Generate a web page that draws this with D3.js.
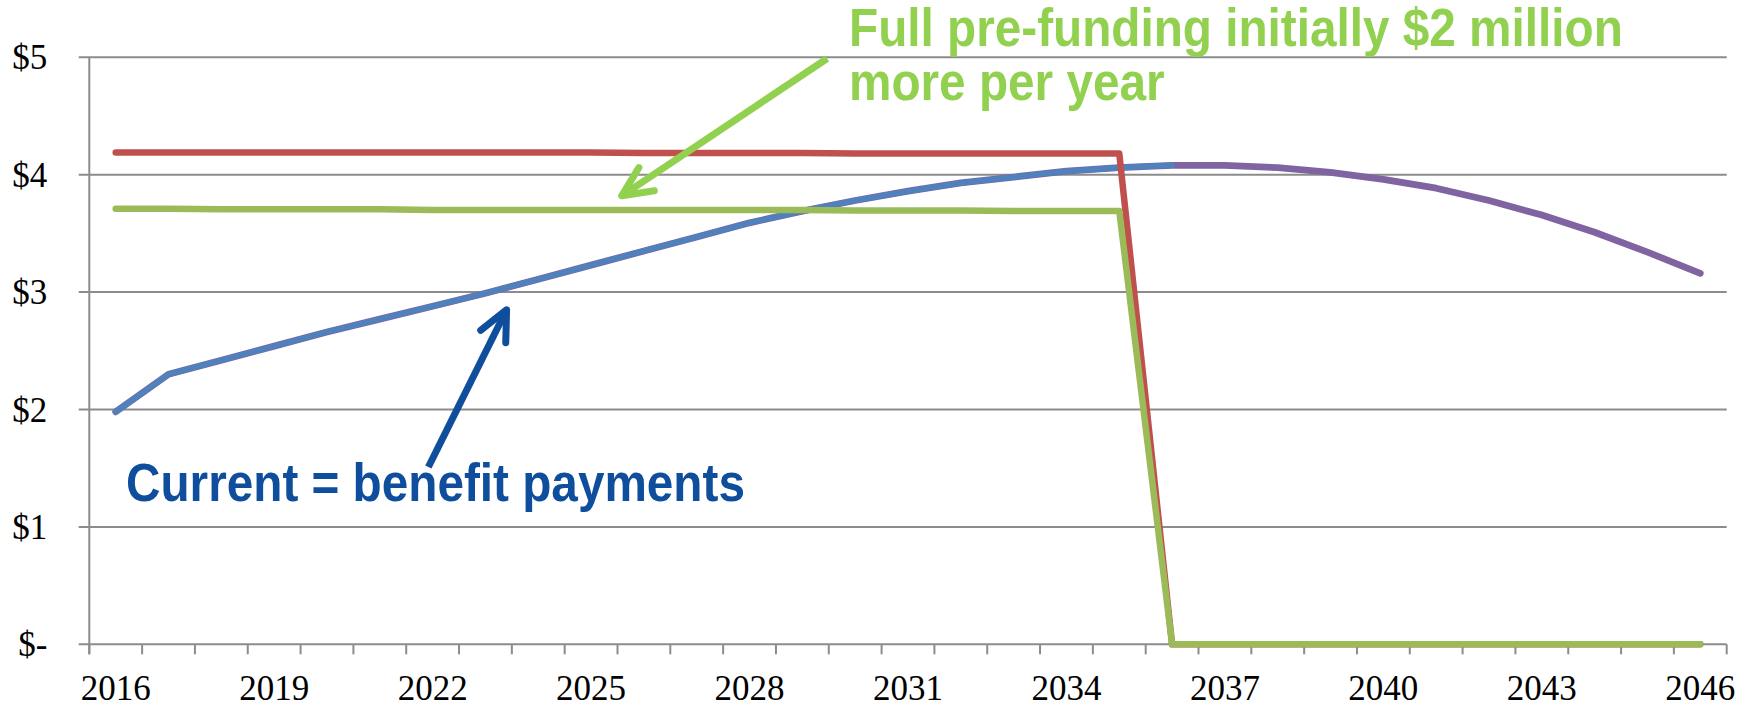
<!DOCTYPE html>
<html>
<head>
<meta charset="utf-8">
<script src="https://cdn.jsdelivr.net/npm/d3@7"></script>
<style>
  body { margin: 0; background: #fff; }
  svg { display: block; }
  .tick text { font-family: "Liberation Serif", "Times New Roman", serif; font-size: 35px; fill: #000; }
  .note { font-family: "Liberation Sans", Arial, sans-serif; font-weight: bold; font-size: 53px; }
</style>
</head>
<body>
<div id="chart"></div>
<script>
// years on the category axis
var years = d3.range(2016, 2047);

// $ millions per year
var currentVals = [1.98, 2.30, 2.42, 2.54, 2.66, 2.77, 2.88, 2.99, 3.11, 3.23, 3.35, 3.47, 3.59, 3.69,
                   3.78, 3.86, 3.93, 3.98, 4.03, 4.06, 4.08];
var redVals = [4.19, 4.19, 4.19, 4.19, 4.19, 4.19, 4.19, 4.19, 4.19, 4.19, 4.185, 4.185, 4.185, 4.185,
               4.18, 4.18, 4.18, 4.18, 4.18, 4.18, 0, 0, 0, 0, 0, 0, 0, 0, 0, 0, 0];
var greenVals = [3.71, 3.71, 3.705, 3.705, 3.705, 3.705, 3.70, 3.70, 3.70, 3.70, 3.70, 3.70, 3.70, 3.70,
                 3.695, 3.695, 3.695, 3.69, 3.69, 3.69, 0, 0, 0, 0, 0, 0, 0, 0, 0, 0, 0];
var purpleVals = currentVals.concat([4.08, 4.06, 4.02, 3.96, 3.885, 3.78, 3.656, 3.51, 3.34, 3.16]);

var yTicks = [0, 1, 2, 3, 4, 5];
var xLabelYears = years.filter(function(d) { return (d - 2016) % 3 == 0; });

// arrows: from [year, value] to [year, value]
var greenArrow = [[2029.47, 4.99], [2025.58, 3.82]];
var blueArrow = [[2021.92, 1.51], [2023.40, 2.85]];

var width = 1756, height = 707;
var plotLeft = 89.3, plotRight = 1726.7, plotTop = 57.3, plotBottom = 644.3;

var svg = d3.select("#chart").append("svg")
    .attr("width", width)
    .attr("height", height);

var x = d3.scaleBand().domain(years).range([plotLeft, plotRight]).padding(0);
// continuous version for annotations
var xl = d3.scaleLinear().domain([2015.5, 2046.5]).range([plotLeft, plotRight]);
var y = d3.scaleLinear().domain([0, 5]).range([plotBottom, plotTop]);

var cx = function(yr) { return x(yr) + x.bandwidth() / 2; };

// gridlines
svg.append("g").selectAll("line")
    .data(yTicks)
  .enter().append("line")
    .attr("x1", plotLeft - 10.6)
    .attr("x2", plotRight)
    .attr("y1", function(d) { return y(d); })
    .attr("y2", function(d) { return y(d); })
    .style("stroke", "#8c8c8c")
    .style("stroke-width", 2);

// y axis line
svg.append("line")
    .attr("x1", plotLeft).attr("x2", plotLeft)
    .attr("y1", y(5)).attr("y2", plotBottom + 10)
    .style("stroke", "#8c8c8c")
    .style("stroke-width", 2);

// x ticks on category boundaries
svg.append("g").selectAll("line")
    .data(years.map(function(d) { return x(d); }).concat([plotRight]))
  .enter().append("line")
    .attr("x1", function(d) { return d; })
    .attr("x2", function(d) { return d; })
    .attr("y1", plotBottom)
    .attr("y2", plotBottom + 10)
    .style("stroke", "#8c8c8c")
    .style("stroke-width", 2);

// y labels
var yAxis = svg.append("g")
    .attr("transform", "translate(" + plotLeft + ",0)")
    .call(d3.axisLeft(y).tickValues(yTicks).tickSize(0).tickPadding(42)
      .tickFormat(function(d) { return d == 0 ? "$-" : "$" + d; }));
yAxis.select(".domain").remove();
yAxis.selectAll("text").attr("dy", "0.33em");

// x labels
var xAxis = svg.append("g")
    .attr("transform", "translate(0," + plotBottom + ")")
    .call(d3.axisBottom(x).tickValues(xLabelYears).tickSize(0).tickPadding(31));
xAxis.select(".domain").remove();

var line = d3.line()
    .x(function(d) { return cx(d[0]); })
    .y(function(d) { return y(d[1]); });

function drawSeries(vals, color, w) {
  svg.append("path")
    .datum(vals.map(function(v, i) { return [years[i], v]; }))
    .attr("d", line)
    .style("fill", "none")
    .style("stroke", color)
    .style("stroke-width", w)
    .style("stroke-linejoin", "round")
    .style("stroke-linecap", "round");
}

drawSeries(purpleVals, "#8064A2", 6.8);
drawSeries(currentVals, "#4F81BD", 5.6);
drawSeries(redVals, "#C0504D", 6.5);
drawSeries(greenVals, "#9BBB59", 6.5);

// arrows with open heads
function drawArrow(pts, color) {
  var x0 = xl(pts[0][0]), y0 = y(pts[0][1]);
  var x1 = xl(pts[1][0]), y1 = y(pts[1][1]);
  var ang = Math.atan2(y0 - y1, x0 - x1);
  var len = 33, spread = 25 * Math.PI / 180;
  var g = svg.append("g")
    .style("stroke", color)
    .style("stroke-width", 7)
    .style("fill", "none")
    .style("stroke-linecap", "round")
    .style("stroke-linejoin", "round");
  g.append("line").attr("x1", x0).attr("y1", y0).attr("x2", x1).attr("y2", y1)
    .style("stroke-linecap", "butt");
  g.append("path").attr("d",
    "M" + (x1 + len * Math.cos(ang - spread)) + "," + (y1 + len * Math.sin(ang - spread)) +
    "L" + x1 + "," + y1 +
    "L" + (x1 + len * Math.cos(ang + spread)) + "," + (y1 + len * Math.sin(ang + spread)));
}

drawArrow(greenArrow, "#92D050");
drawArrow(blueArrow, "#0F4E9C");

// notes (the original type is a bit narrow, so squeeze it)
function squeeze(sel) {
  sel.each(function() {
    var w = this.getComputedTextLength();
    d3.select(this).attr("textLength", w * 0.9).attr("lengthAdjust", "spacingAndGlyphs");
  });
}

var greenNote = svg.append("text")
    .attr("class", "note")
    .attr("x", 849)
    .attr("y", 46)
    .style("fill", "#92D050");
greenNote.append("tspan").attr("x", 849).text("Full pre-funding initially $2 million");
greenNote.append("tspan").attr("x", 849).attr("dy", 54).text("more per year");
squeeze(greenNote.selectAll("tspan"));

var blueNote = svg.append("text")
    .attr("class", "note")
    .attr("x", 126)
    .attr("y", 501)
    .style("fill", "#0F4E9C")
    .text("Current = benefit payments");
squeeze(blueNote);
</script>
</body>
</html>
